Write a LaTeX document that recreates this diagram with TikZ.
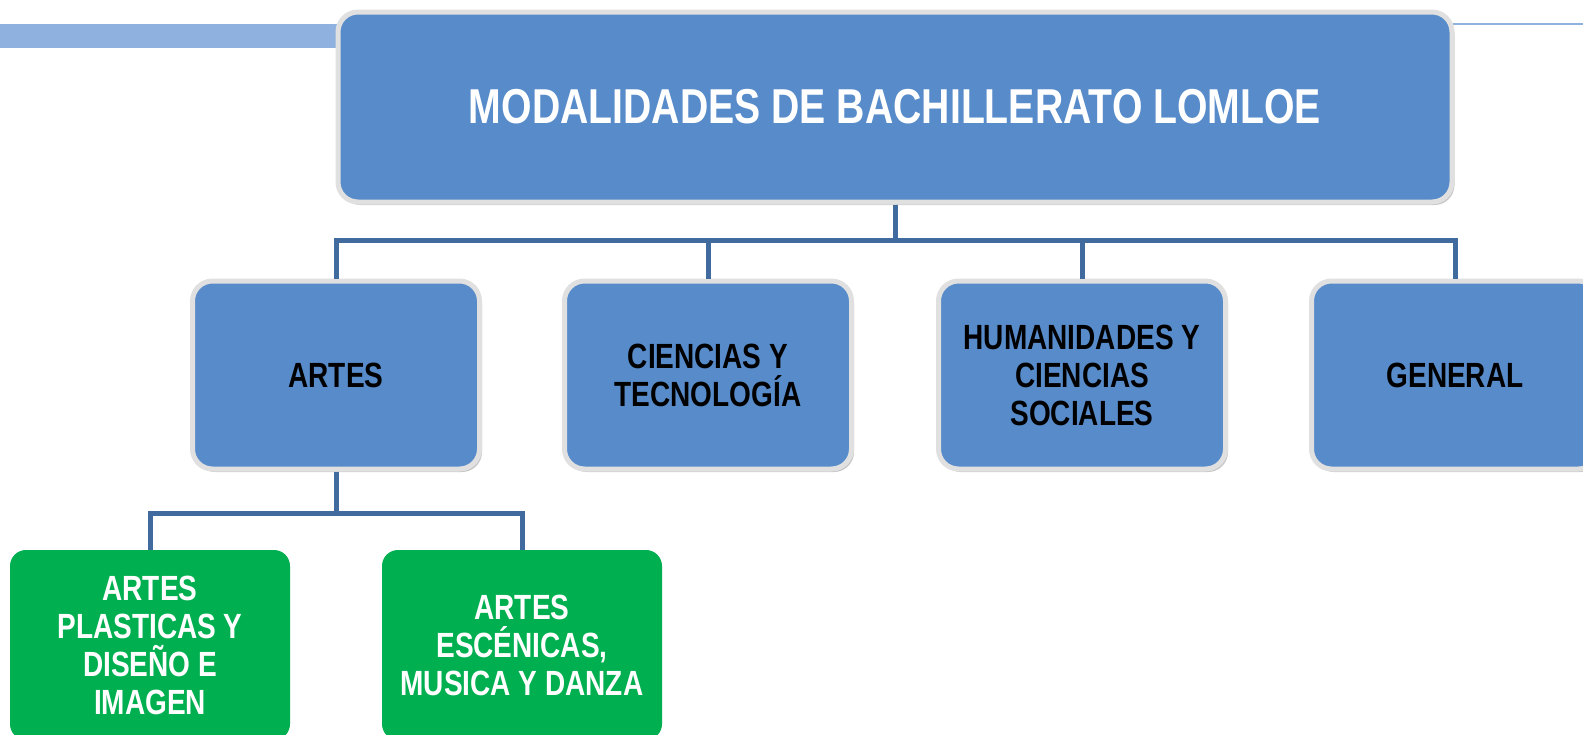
\documentclass[tikz,border=0pt]{standalone}
\usepackage{fontspec}
\setmainfont{Liberation Sans}[FakeStretch=0.8]
\usetikzlibrary{positioning}
\usetikzlibrary{shadows}
\definecolor{boxblue}{RGB}{87,139,202}
\definecolor{linkblue}{RGB}{65,106,158}
\definecolor{barblue}{RGB}{142,177,224}
\definecolor{artgreen}{RGB}{0,176,80}
\tikzset{
	align=center,
	modbox/.style={
		draw=black!12,
		line width=5pt,
		fill=boxblue,
		rounded corners=20pt,
		inner sep=0pt,
		drop shadow={shadow xshift=2.5pt,shadow yshift=-3pt,opacity=0.45},
		font=\fontsize{35}{38}\selectfont\bfseries,
	},
	subbox/.style={
		fill=artgreen,
		rounded corners=16pt,
		inner sep=0pt,
		text=white,
		minimum width=280pt,
		minimum height=190pt,
		font=\fontsize{35}{38}\selectfont\bfseries,
	},
	conn/.style={
		draw=linkblue,
		line width=5pt,
	},
}

\begin{document}
\begin{tikzpicture}[
		x=1pt, y=-1pt,
		modbox/.append style={minimum width=287pt, minimum height=188pt},
	]
		\path[use as bounding box] (0,0) rectangle (1583,734);
		\clip (0,0) rectangle (1583,734);

		\fill[barblue] 			(0,24) rectangle (338,48);
		\draw[barblue, line width=1.2pt] (1400,24) -- (1583,24);

		\node[modbox, minimum width=1114pt, minimum height=190pt, text=white,
			font=\fontsize{49}{55}\selectfont\bfseries] (modal) at (895,107) {MODALIDADES DE BACHILLERATO LOMLOE};

		\node[modbox] 			(artes) at (336,375) {ARTES};
		\node[modbox] 			(cienc) at (708,375) {CIENCIAS Y\\TECNOLOGÍA};
		\node[modbox] 			(human) at (1082,375) {HUMANIDADES Y\\CIENCIAS\\SOCIALES};
		\node[modbox] 			(gener) at (1455,375) {GENERAL};

		\node[subbox] 			(plast) at (150,645) {ARTES\\PLASTICAS Y\\DISEÑO E\\IMAGEN};
		\node[subbox] 			(escen) at (522,645) {ARTES\\ESCÉNICAS,\\MUSICA Y DANZA};

		\draw[conn] 			(modal.south) -- ++(0,36) -| (artes.north);
		\draw[conn] 			(modal.south) -- ++(0,36) -| (cienc.north);
		\draw[conn] 			(modal.south) -- ++(0,36) -| (human.north);
		\draw[conn] 			(modal.south) -- ++(0,36) -| (gener.north);

		\draw[conn] 			(artes.south) -- ++(0,42) -| (plast.north);
		\draw[conn] 			(artes.south) -- ++(0,42) -| (escen.north);

	\end{tikzpicture}
\end{document}
